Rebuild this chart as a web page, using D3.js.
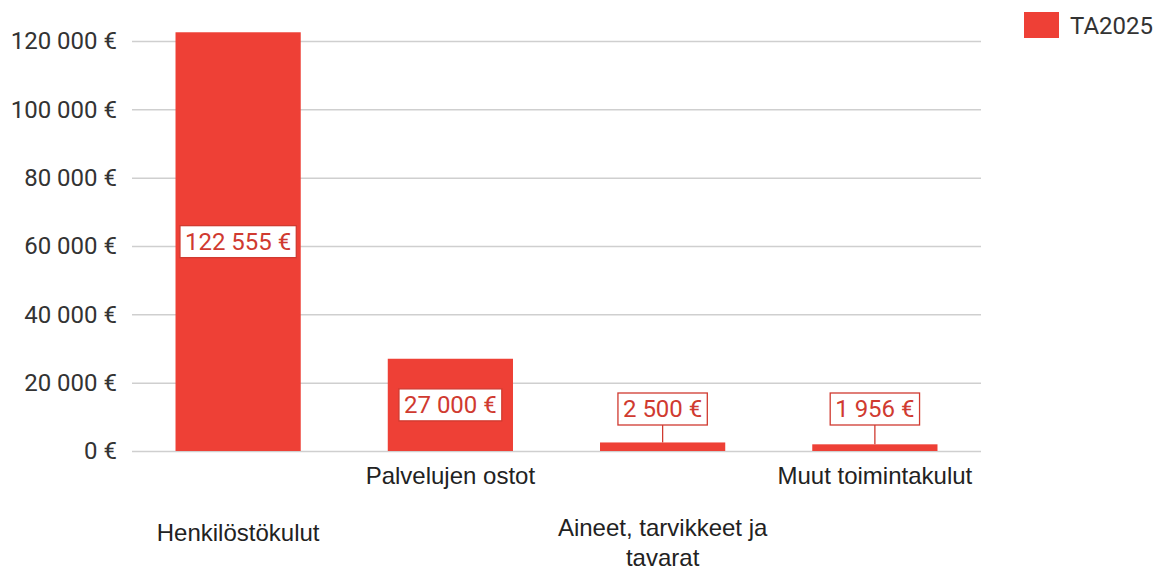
<!DOCTYPE html>
<html>
<head>
<meta charset="utf-8">
<title>TA2025</title>
<script src="https://cdn.jsdelivr.net/npm/d3@7"></script>
<style>
body { margin: 0; background: #fff; }
.tick text { font-family: Roboto, "Liberation Sans", sans-serif; font-size: 24px; fill: #333; }
.cat-label { font-family: "Liberation Sans", Arial, sans-serif; font-size: 24px; fill: #222; }
.val-label { font-family: Roboto, sans-serif; font-size: 24px; fill: #d03a30; }
.legend-label { font-family: Roboto, sans-serif; font-size: 24px; fill: #333; }
</style>
</head>
<body>
<div id="chart"></div>
<script>
var categories = ["Henkilöstökulut", "Palvelujen ostot", "Aineet, tarvikkeet ja tavarat", "Muut toimintakulut"];
var values = [122555, 27000, 2500, 1956];
var seriesName = "TA2025";
var yTicks = [0, 20000, 40000, 60000, 80000, 100000, 120000];

var W = 1161, H = 575;
var margin = { top: 41, right: 180, bottom: 124, left: 132 };
var width = 981 - margin.left, height = 451 - margin.top;
var barColor = "#ee4036";

var fmt = function (d) { return d3.format(",d")(d).replace(/,/g, " ") + " €"; };

var svg = d3.select("#chart").append("svg").attr("width", W).attr("height", H);
var g = svg.append("g").attr("transform", "translate(" + margin.left + "," + margin.top + ")");

var x = d3.scaleBand().domain(categories).range([0, width]).paddingInner(0.41).paddingOuter(0.205);
var y = d3.scaleLinear().domain([0, 120000]).range([height, 0]);

// grid + y axis
var yAxis = d3.axisLeft(y).tickValues(yTicks).tickSize(-width).tickPadding(15).tickFormat(fmt);
g.append("g").attr("class", "axis axis--y").call(yAxis)
  .call(function (a) {
    a.select(".domain").remove();
    a.selectAll("line").attr("stroke", "#cfcfcf").attr("stroke-width", 1.5);
  });

// bars
g.selectAll(".bar").data(values).enter().append("rect")
  .attr("class", "bar")
  .attr("x", function (d, i) { return x(categories[i]); })
  .attr("width", x.bandwidth())
  .attr("y", function (d) { return y(d); })
  .attr("height", function (d) { return height - y(d); })
  .attr("fill", barColor);

// category labels (staggered)
var catLines = [["Henkilöstökulut"], ["Palvelujen ostot"], ["Aineet, tarvikkeet ja", "tavarat"], ["Muut toimintakulut"]];
catLines.forEach(function (lines, i) {
  var cx = x(categories[i]) + x.bandwidth() / 2;
  var baseY = height + (i % 2 === 0 ? 90 : 33) - (lines.length > 1 ? 5 : 0);
  var t = g.append("text").attr("class", "cat-label").attr("text-anchor", "middle");
  lines.forEach(function (l, k) {
    t.append("tspan").attr("x", cx).attr("y", baseY + k * 30).text(l);
  });
});

// value labels
values.forEach(function (v, i) {
  var cx = x(categories[i]) + x.bandwidth() / 2;
  var top = y(v), bh = height - top;
  var cy = bh > 60 ? top + bh / 2 : height - 42;
  var lg = g.append("g");
  var txt = lg.append("text").attr("class", "val-label").attr("text-anchor", "middle")
    .attr("x", cx).attr("y", cy).attr("dy", "0.35em").text(fmt(v));
  var bb = txt.node().getBBox();
  lg.insert("rect", "text")
    .attr("x", bb.x - 5).attr("y", cy - 16).attr("width", bb.width + 10).attr("height", 32)
    .attr("fill", "#fff").attr("stroke", "#d03a30").attr("stroke-width", 1.3);
  if (bh <= 60) {
    lg.append("line").attr("x1", cx).attr("x2", cx).attr("y1", cy + 16).attr("y2", top)
      .attr("stroke", "#d03a30").attr("stroke-width", 1.3);
  }
});

// legend
var leg = svg.append("g").attr("transform", "translate(1024,12)");
leg.append("rect").attr("width", 35).attr("height", 26).attr("fill", barColor);
leg.append("text").attr("class", "legend-label").attr("x", 46).attr("y", 14).attr("dy", "0.35em").text(seriesName);
</script>
</body>
</html>
